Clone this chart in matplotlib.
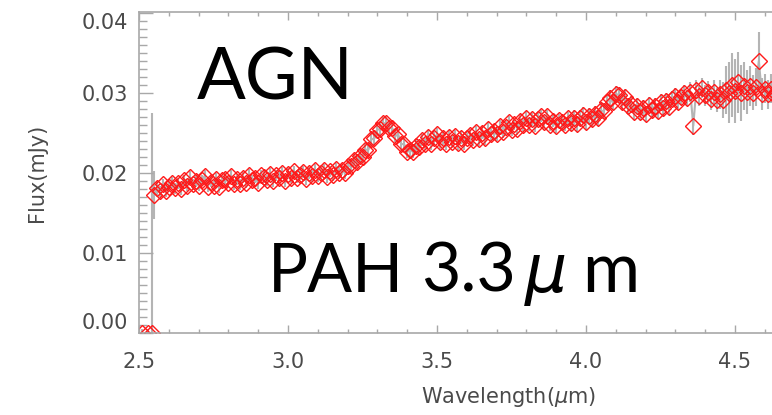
import matplotlib
matplotlib.use("Agg")
import matplotlib.pyplot as plt
from matplotlib.ticker import MultipleLocator, FormatStrFormatter

# ---- data ----
zero_wavelength = [2.510, 2.530, 2.545]
zero_flux = [0.0, 0.0, 0.0]
zero_err = [0.0005, 0.0005, 0.0275]

wavelength = [
    2.55, 2.56, 2.57, 2.58, 2.59, 2.60, 2.61, 2.62, 2.63, 2.64,
    2.65, 2.66, 2.67, 2.68, 2.69, 2.70, 2.71, 2.72, 2.73, 2.74,
    2.75, 2.76, 2.77, 2.78, 2.79, 2.80, 2.81, 2.82, 2.83, 2.84,
    2.85, 2.86, 2.87, 2.88, 2.89, 2.90, 2.91, 2.92, 2.93, 2.94,
    2.95, 2.96, 2.97, 2.98, 2.99, 3.00, 3.01, 3.02, 3.03, 3.04,
    3.05, 3.06, 3.07, 3.08, 3.09, 3.10, 3.11, 3.12, 3.13, 3.14,
    3.15, 3.16, 3.17, 3.18, 3.19, 3.20, 3.21, 3.22, 3.23, 3.24,
    3.25, 3.26, 3.27, 3.28, 3.29, 3.30, 3.31, 3.32, 3.33, 3.34,
    3.35, 3.36, 3.37, 3.38, 3.39, 3.40, 3.41, 3.42, 3.43, 3.44,
    3.45, 3.46, 3.47, 3.48, 3.49, 3.50, 3.51, 3.52, 3.53, 3.54,
    3.55, 3.56, 3.57, 3.58, 3.59, 3.60, 3.61, 3.62, 3.63, 3.64,
    3.65, 3.66, 3.67, 3.68, 3.69, 3.70, 3.71, 3.72, 3.73, 3.74,
    3.75, 3.76, 3.77, 3.78, 3.79, 3.80, 3.81, 3.82, 3.83, 3.84,
    3.85, 3.86, 3.87, 3.88, 3.89, 3.90, 3.91, 3.92, 3.93, 3.94,
    3.95, 3.96, 3.97, 3.98, 3.99, 4.00, 4.01, 4.02, 4.03, 4.04,
    4.05, 4.06, 4.07, 4.08, 4.09, 4.10, 4.11, 4.12, 4.13, 4.14,
    4.15, 4.16, 4.17, 4.18, 4.19, 4.20, 4.21, 4.22, 4.23, 4.24,
    4.25, 4.26, 4.27, 4.28, 4.29, 4.30, 4.31, 4.32, 4.33, 4.34,
    4.35, 4.36, 4.37, 4.38, 4.39, 4.40, 4.41, 4.42, 4.43, 4.44,
    4.45, 4.46, 4.47, 4.48, 4.49, 4.50, 4.51, 4.52, 4.53, 4.54,
    4.55, 4.56, 4.57, 4.58, 4.59, 4.60, 4.61, 4.62, 4.63, 4.64,
    4.65, 4.66, 4.67]

flux = [
    0.0172, 0.0181, 0.0177, 0.0186, 0.0177, 0.0183, 0.0188, 0.0181, 0.0187, 0.0180,
    0.0191, 0.0184, 0.0195, 0.0186, 0.0190, 0.0184, 0.0191, 0.0196, 0.0183, 0.0189,
    0.0184, 0.0193, 0.0182, 0.0191, 0.0193, 0.0188, 0.0196, 0.0186, 0.0192, 0.0186,
    0.0194, 0.0188, 0.0198, 0.0191, 0.0194, 0.0187, 0.0197, 0.0195, 0.0191, 0.0199,
    0.0190, 0.0197, 0.0194, 0.0200, 0.0190, 0.0199, 0.0194, 0.0202, 0.0194, 0.0198,
    0.0201, 0.0192, 0.0200, 0.0196, 0.0204, 0.0196, 0.0200, 0.0204, 0.0195, 0.0202,
    0.0197, 0.0205, 0.0200, 0.0204, 0.0200, 0.0209, 0.0208, 0.0216, 0.0213, 0.0221,
    0.0220, 0.0229, 0.0229, 0.0242, 0.0243, 0.0254, 0.0255, 0.0262, 0.0262, 0.0256,
    0.0256, 0.0246, 0.0248, 0.0236, 0.0236, 0.0226, 0.0229, 0.0226, 0.0234, 0.0232,
    0.0241, 0.0236, 0.0245, 0.0236, 0.0243, 0.0248, 0.0238, 0.0243, 0.0236, 0.0245,
    0.0239, 0.0246, 0.0237, 0.0244, 0.0236, 0.0244, 0.0247, 0.0241, 0.0251, 0.0242,
    0.0250, 0.0243, 0.0255, 0.0248, 0.0252, 0.0248, 0.0258, 0.0251, 0.0257, 0.0263,
    0.0254, 0.0261, 0.0255, 0.0265, 0.0260, 0.0269, 0.0260, 0.0267, 0.0259, 0.0267,
    0.0271, 0.0263, 0.0271, 0.0260, 0.0265, 0.0258, 0.0266, 0.0263, 0.0260, 0.0268,
    0.0262, 0.0269, 0.0261, 0.0268, 0.0272, 0.0263, 0.0271, 0.0267, 0.0274, 0.0269,
    0.0278, 0.0277, 0.0288, 0.0293, 0.0288, 0.0299, 0.0297, 0.0289, 0.0295, 0.0283,
    0.0286, 0.0276, 0.0284, 0.0276, 0.0281, 0.0274, 0.0285, 0.0278, 0.0283, 0.0277,
    0.0288, 0.0281, 0.0290, 0.0282, 0.0292, 0.0296, 0.0288, 0.0295, 0.0300, 0.0293,
    0.0301, 0.0259, 0.0304, 0.0296, 0.0306, 0.0297, 0.0301, 0.0292, 0.0301, 0.0291,
    0.0298, 0.0291, 0.0303, 0.0300, 0.0310, 0.0302, 0.0313, 0.0300, 0.0308, 0.0301,
    0.0309, 0.0300, 0.0307, 0.0340, 0.0299, 0.0305, 0.0298, 0.0305, 0.0297, 0.0302,
    0.0296, 0.0304, 0.0299]

flux_err = [
    0.0030, 0.0008, 0.0007, 0.0007, 0.0007, 0.0007, 0.0007, 0.0007, 0.0007, 0.0007,
    0.0007, 0.0007, 0.0007, 0.0007, 0.0007, 0.0007, 0.0007, 0.0007, 0.0007, 0.0007,
    0.0007, 0.0007, 0.0007, 0.0007, 0.0007, 0.0007, 0.0007, 0.0007, 0.0007, 0.0007,
    0.0007, 0.0007, 0.0007, 0.0007, 0.0007, 0.0007, 0.0007, 0.0007, 0.0007, 0.0007,
    0.0007, 0.0007, 0.0007, 0.0007, 0.0007, 0.0007, 0.0007, 0.0007, 0.0007, 0.0007,
    0.0007, 0.0007, 0.0007, 0.0007, 0.0007, 0.0007, 0.0007, 0.0007, 0.0007, 0.0007,
    0.0007, 0.0007, 0.0007, 0.0007, 0.0007, 0.0007, 0.0007, 0.0007, 0.0007, 0.0007,
    0.0008, 0.0008, 0.0008, 0.0008, 0.0008, 0.0008, 0.0008, 0.0008, 0.0008, 0.0008,
    0.0008, 0.0008, 0.0008, 0.0008, 0.0008, 0.0008, 0.0008, 0.0008, 0.0008, 0.0008,
    0.0008, 0.0008, 0.0008, 0.0008, 0.0008, 0.0008, 0.0008, 0.0008, 0.0008, 0.0008,
    0.0008, 0.0008, 0.0008, 0.0008, 0.0008, 0.0008, 0.0008, 0.0008, 0.0008, 0.0008,
    0.0008, 0.0008, 0.0008, 0.0008, 0.0008, 0.0008, 0.0008, 0.0008, 0.0008, 0.0008,
    0.0008, 0.0008, 0.0008, 0.0008, 0.0008, 0.0008, 0.0008, 0.0008, 0.0008, 0.0008,
    0.0008, 0.0008, 0.0008, 0.0008, 0.0008, 0.0008, 0.0008, 0.0008, 0.0008, 0.0008,
    0.0010, 0.0010, 0.0010, 0.0010, 0.0010, 0.0010, 0.0010, 0.0010, 0.0010, 0.0010,
    0.0010, 0.0010, 0.0010, 0.0010, 0.0010, 0.0010, 0.0010, 0.0010, 0.0010, 0.0010,
    0.0010, 0.0010, 0.0010, 0.0010, 0.0010, 0.0010, 0.0010, 0.0010, 0.0010, 0.0010,
    0.0010, 0.0010, 0.0010, 0.0010, 0.0010, 0.0010, 0.0010, 0.0010, 0.0010, 0.0010,
    0.0012, 0.0012, 0.0012, 0.0013, 0.0013, 0.0013, 0.0014, 0.0014, 0.0015, 0.0015,
    0.0018, 0.0022, 0.0030, 0.0038, 0.0040, 0.0040, 0.0038, 0.0035, 0.0030, 0.0028,
    0.0025, 0.0022, 0.0024, 0.0036, 0.0020, 0.0018, 0.0018, 0.0018, 0.0017, 0.0017,
    0.0017, 0.0017, 0.0017]

x_ticks = [2.5, 3.0, 3.5, 4.0, 4.5]
y_ticks = [0.00, 0.01, 0.02, 0.03, 0.04]

# ---- figure ----
W, H = 772, 415
fig = plt.figure(figsize=(W / 100, H / 100), dpi=100)
ax = fig.add_axes([139 / W, 82 / H, 745 / W, 321 / H])
ax.set_xlim(2.5, 5.0)
ax.set_ylim(0.0, 0.0401)

gray = "#b4b4b4"
all_wl = zero_wavelength + wavelength
all_fx = zero_flux + flux
all_er = zero_err + flux_err

ax.errorbar(all_wl, all_fx, yerr=all_er, fmt="none", ecolor=gray,
            elinewidth=1.5, capsize=0, zorder=1)
ax.plot(wavelength, flux, color=gray, lw=1.5, zorder=1)
ax.plot(all_wl, all_fx, ls="none", marker="D", mfc="none", mec="#ff1a1a",
        ms=8.5, mew=1.0, zorder=2)

# axes styling (IDL-like)
spine_c = "#a8a8a8"
for s in ax.spines.values():
    s.set_color(spine_c)
    s.set_linewidth(1.2)
ax.xaxis.set_minor_locator(MultipleLocator(0.1))
ax.yaxis.set_minor_locator(MultipleLocator(0.001))
ax.set_xticks(x_ticks)
ax.set_yticks(y_ticks)
ax.xaxis.set_major_formatter(FormatStrFormatter("%.1f"))
ax.yaxis.set_major_formatter(FormatStrFormatter("%.2f"))

ax.tick_params(axis="x", which="major", direction="in", length=6, width=1,
               color=spine_c, top=True, bottom=True, labelsize=15,
               labelcolor="#4a4a4a", pad=14)
ax.tick_params(axis="x", which="minor", direction="in", length=3, width=1,
               color=spine_c, top=True, bottom=True)
ax.tick_params(axis="y", which="major", direction="in", length=10, width=1,
               color=spine_c, left=True, right=True, labelsize=15,
               labelcolor="#4a4a4a", pad=8)
ax.tick_params(axis="y", which="minor", direction="in", length=6, width=1,
               color=spine_c, left=True, right=True)

# IDL keeps the end labels inside the axis range
ylabels = ax.get_yticklabels()
ylabels[0].set_verticalalignment("bottom")
ylabels[-1].set_verticalalignment("top")

fig.text(37 / W, 1 - 173 / H, "Flux(mJy)", rotation=90, ha="center",
         va="center", fontsize=15, color="#4a4a4a")
fig.text(509 / W, 1 - 397 / H, r"Wavelength($\mu$m)", ha="center",
         va="center", fontsize=15, color="#4a4a4a")

# big annotations
big = ["Lato", "DejaVu Sans"]
fig.text(197 / W, 1 - 100 / H, "AGN", family=big, fontsize=52,
         color="black", ha="left", va="baseline")
fig.text(268 / W, 1 - 292 / H, "PAH", family=big, fontsize=48,
         color="black", ha="left", va="baseline")
fig.text(421 / W, 1 - 292 / H, "3.3", family=big, fontsize=49,
         color="black", ha="left", va="baseline")
fig.text(546 / W, 1 - 292 / H, "\u03bc", family=["DejaVu Sans"],
         style="oblique", fontsize=48, color="black", ha="center",
         va="baseline")
fig.text(582 / W, 1 - 292 / H, "m", family=big, fontsize=50,
         color="black", ha="left", va="baseline")

fig.savefig("out.png", dpi=100)
